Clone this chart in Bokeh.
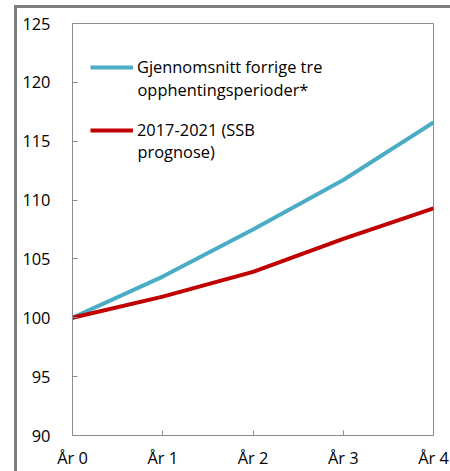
from bokeh.plotting import figure
from bokeh.models import FixedTicker, Legend, LegendItem, Label
from bokeh.embed import file_html
from bokeh.resources import INLINE

# ---- data ----
categories = ["År 0", "År 1", "År 2", "År 3", "År 4"]
avg_prev_three = [100.0, 103.5, 107.5, 111.7, 116.6]
ssb_2017_2021 = [100.0, 101.8, 103.9, 106.7, 109.3]
y_ticks = [90, 95, 100, 105, 110, 115, 120, 125]
label_avg = ["Gjennomsnitt forrige tre", "opphentingsperioder*"]
label_ssb = ["2017-2021 (SSB", "prognose)"]

BLUE = "#4BACC6"
RED = "#C00000"
GRAY = "#8c8c8c"
FONT = "Open Sans"
FS = "16.4px"

xs = list(range(len(categories)))

p = figure(width=450, height=471, output_backend="svg", toolbar_location=None,
           x_range=(xs[0], xs[-1]), y_range=(y_ticks[0], y_ticks[-1]),
           min_border_left=72, min_border_right=17, min_border_top=23, min_border_bottom=35)
p.styles = {
    "background": "linear-gradient(#7f7f7f,#7f7f7f) 14px 5px / 3px 466px no-repeat, "
                  "linear-gradient(#7f7f7f,#7f7f7f) 14px 5px / 436px 3px no-repeat, #ffffff",
}
p.border_fill_alpha = 0
p.background_fill_color = "white"
p.outline_line_color = GRAY
p.outline_line_width = 1
p.grid.visible = False

p.xaxis.ticker = FixedTicker(ticks=xs)
p.xaxis.major_label_overrides = {i: c for i, c in zip(xs, categories)}
p.yaxis.ticker = FixedTicker(ticks=y_ticks)
for ax in (p.xaxis, p.yaxis):
    ax.axis_line_color = GRAY
    ax.major_tick_line_color = GRAY
    ax.major_tick_in = 5
    ax.major_tick_out = 0
    ax.minor_tick_line_color = None
    ax.major_label_text_font = FONT
    ax.major_label_text_font_size = FS
    ax.major_label_text_color = "black"
p.yaxis.major_label_standoff = 22
p.xaxis.major_label_standoff = 10

r1 = p.line(xs, avg_prev_three, line_color=BLUE, line_width=4)
r2 = p.line(xs, ssb_2017_2021, line_color=RED, line_width=4)

legend = Legend(items=[LegendItem(label=label_avg[0], renderers=[r1]),
                       LegendItem(label=label_ssb[0], renderers=[r2])],
                location=(18, 294), orientation="vertical",
                glyph_width=43, glyph_height=22, label_height=22, label_standoff=4,
                spacing=40, padding=0, margin=0,
                border_line_color=None, background_fill_alpha=0,
                label_text_font=FONT, label_text_font_size=FS, label_text_color="black")
p.add_layout(legend, "center")

for txt, yy in ((label_avg[1], 346), (label_ssb[1], 284)):
    p.add_layout(Label(x=65, y=yy, x_units="screen", y_units="screen", text=txt,
                       text_font=FONT, text_font_size=FS, text_color="black",
                       text_baseline="middle", text_align="left"))

open("out.html", "w").write(file_html(p, INLINE))
